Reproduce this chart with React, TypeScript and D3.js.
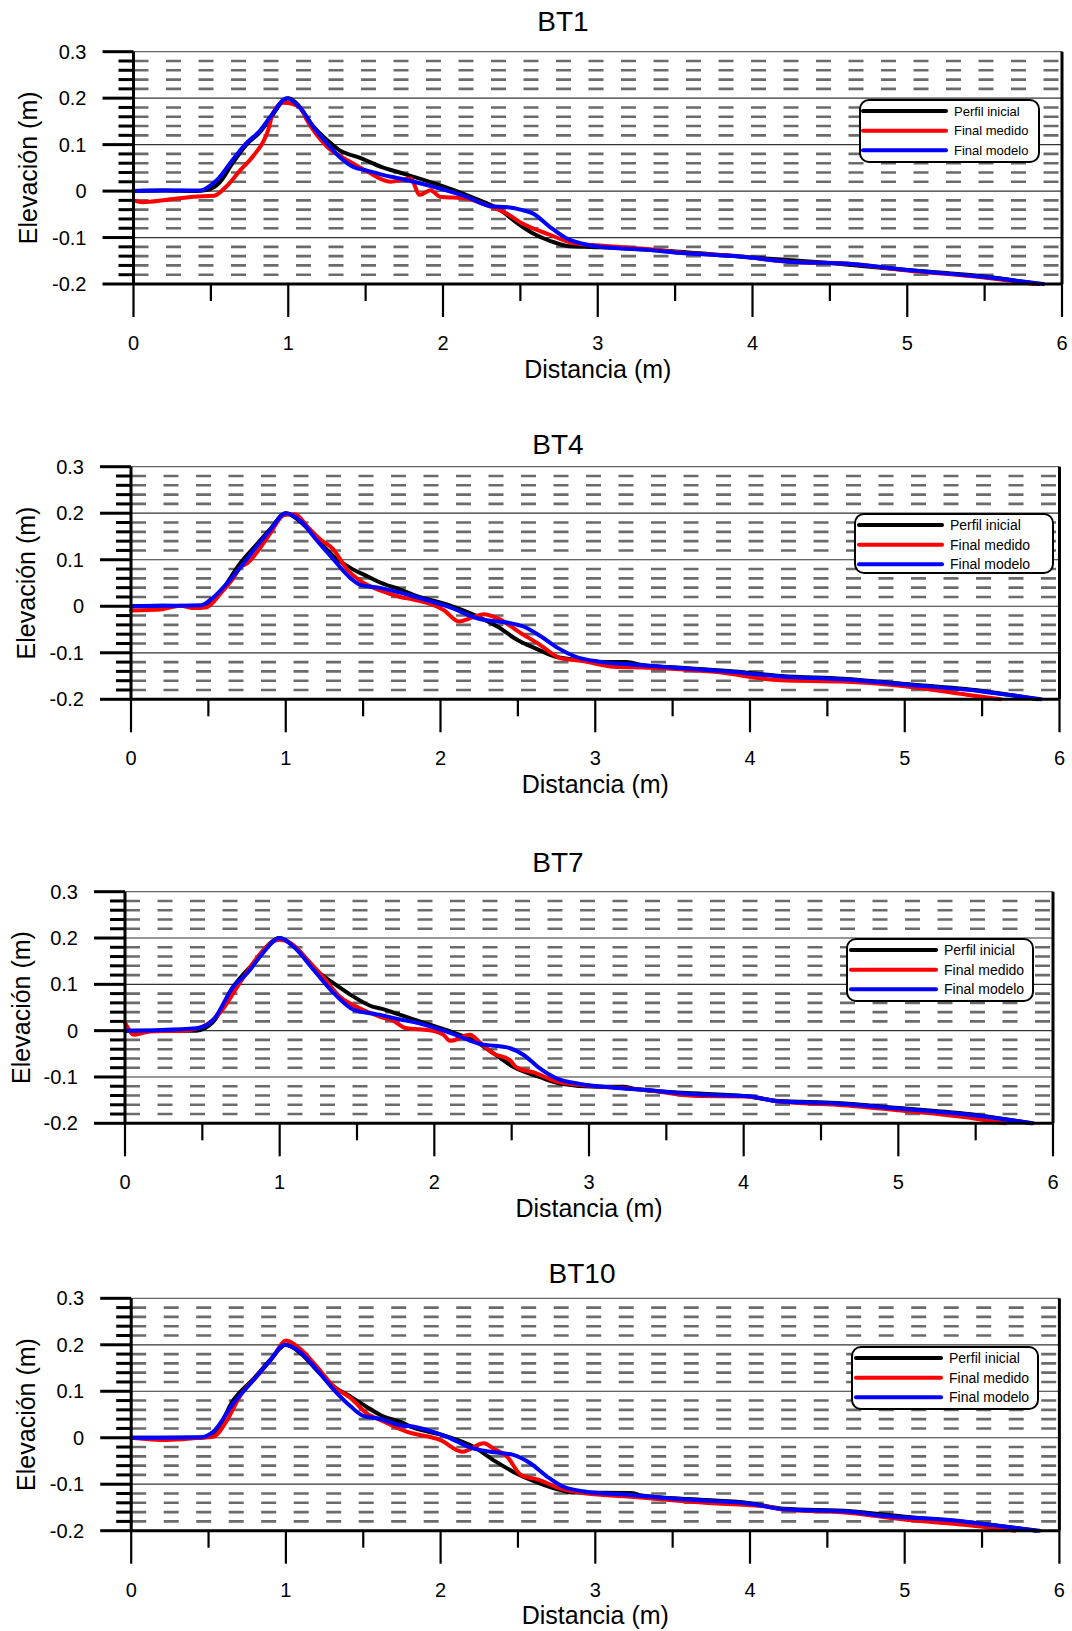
import React from "react";
import * as d3 from "d3";

// ---------- data (x in m, elevation in m) ----------
const panelTitles = ["BT1", "BT4", "BT7", "BT10"];
const legendLabels = ["Perfil inicial", "Final medido", "Final modelo"];
const seriesColors = ["#000000", "#ff0000", "#0000ff"];
const xTickValues = [0, 1, 2, 3, 4, 5, 6];
const yTickValues = [-0.2, -0.1, 0, 0.1, 0.2, 0.3];
const yTickLabels = ["-0.2", "-0.1", "0", "0.1", "0.2", "0.3"];
const xAxisTitle = "Distancia (m)";
const yAxisTitle = "Elevación (m)";

const bt1Inicial: [number, number][] = [[0,0],[0.2,0.001],[0.4,0.0],[0.47,0.002],[0.56,0.02],[0.64,0.06],[0.73,0.1],[0.82,0.128],[0.9,0.164],[0.96,0.192],[1.0,0.2],[1.05,0.19],[1.16,0.14],[1.25,0.11],[1.33,0.088],[1.46,0.072],[1.61,0.051],[1.72,0.04],[1.94,0.017],[2.15,-0.008],[2.26,-0.023],[2.37,-0.041],[2.48,-0.069],[2.58,-0.091],[2.69,-0.107],[2.8,-0.118],[2.91,-0.12],[3.1,-0.122],[3.5,-0.13],[4.0,-0.143],[4.5,-0.155],[5.0,-0.17],[5.5,-0.184],[5.85,-0.2]];
const bt1Medido: [number, number][] = [[0,-0.02],[0.06,-0.024],[0.21,-0.019],[0.39,-0.012],[0.52,-0.01],[0.6,0.01],[0.69,0.045],[0.77,0.074],[0.87,0.131],[0.9,0.167],[0.97,0.19],[1.03,0.187],[1.08,0.178],[1.12,0.153],[1.25,0.096],[1.4,0.063],[1.51,0.042],[1.66,0.02],[1.79,0.027],[1.85,-0.008],[1.92,0.002],[1.98,-0.012],[2.15,-0.016],[2.28,-0.03],[2.41,-0.048],[2.52,-0.071],[2.69,-0.094],[2.84,-0.112],[3.01,-0.117],[3.3,-0.124],[3.56,-0.133],[3.9,-0.14],[4.23,-0.152],[4.64,-0.157],[5.0,-0.171],[5.47,-0.185],[5.82,-0.2]];
const bt1Modelo: [number, number][] = [[0,0],[0.2,0.001],[0.43,0.001],[0.47,0.006],[0.54,0.024],[0.64,0.067],[0.73,0.103],[0.82,0.131],[0.9,0.167],[0.99,0.2],[1.08,0.178],[1.16,0.139],[1.25,0.103],[1.33,0.074],[1.42,0.052],[1.51,0.044],[1.61,0.035],[1.72,0.027],[1.94,0.009],[2.15,-0.012],[2.3,-0.032],[2.42,-0.035],[2.5,-0.04],[2.58,-0.048],[2.69,-0.077],[2.8,-0.102],[2.91,-0.114],[3.01,-0.12],[3.3,-0.126],[3.56,-0.134],[3.92,-0.141],[4.23,-0.152],[4.64,-0.157],[5.0,-0.17],[5.47,-0.184],[5.88,-0.2]];

const bt4Inicial: [number, number][] = [[0,0],[0.2,0.001],[0.45,0.0],[0.52,0.008],[0.6,0.04],[0.7,0.09],[0.81,0.132],[0.9,0.166],[1.0,0.2],[1.1,0.18],[1.2,0.145],[1.31,0.107],[1.42,0.082],[1.53,0.064],[1.61,0.051],[1.74,0.036],[1.83,0.024],[2.05,0.003],[2.22,-0.019],[2.37,-0.044],[2.5,-0.073],[2.61,-0.09],[2.74,-0.108],[2.91,-0.116],[3.1,-0.12],[3.2,-0.12],[3.3,-0.126],[3.6,-0.133],[3.9,-0.14],[4.2,-0.15],[4.6,-0.156],[5.0,-0.167],[5.5,-0.182],[5.86,-0.2]];
const bt4Medido: [number, number][] = [[0,-0.009],[0.19,-0.007],[0.32,0.001],[0.41,-0.004],[0.49,-0.002],[0.58,0.028],[0.66,0.06],[0.71,0.085],[0.75,0.092],[0.84,0.128],[0.9,0.157],[0.99,0.196],[1.06,0.198],[1.14,0.171],[1.23,0.142],[1.3,0.125],[1.4,0.078],[1.49,0.053],[1.61,0.034],[1.74,0.02],[1.83,0.014],[2.02,-0.008],[2.12,-0.033],[2.19,-0.026],[2.28,-0.017],[2.37,-0.026],[2.52,-0.058],[2.63,-0.08],[2.78,-0.112],[2.91,-0.117],[3.12,-0.13],[3.34,-0.132],[3.77,-0.141],[4.2,-0.159],[4.6,-0.162],[5.0,-0.172],[5.4,-0.19],[5.62,-0.2]];
const bt4Modelo: [number, number][] = [[0,0],[0.2,0.001],[0.45,0.002],[0.51,0.013],[0.62,0.049],[0.71,0.085],[0.81,0.128],[0.9,0.164],[1.0,0.2],[1.1,0.182],[1.2,0.142],[1.31,0.1],[1.42,0.06],[1.48,0.046],[1.6,0.04],[1.83,0.021],[2.05,-0.001],[2.26,-0.028],[2.43,-0.035],[2.54,-0.044],[2.65,-0.065],[2.76,-0.09],[2.87,-0.108],[3.02,-0.119],[3.23,-0.125],[3.56,-0.133],[3.88,-0.141],[4.2,-0.151],[4.6,-0.157],[5.0,-0.168],[5.5,-0.183],[5.88,-0.2]];

const bt7Inicial: [number, number][] = [[0,0],[0.2,0.0],[0.46,0.0],[0.57,0.019],[0.7,0.095],[0.83,0.145],[1.0,0.2],[1.1,0.18],[1.26,0.124],[1.35,0.102],[1.48,0.073],[1.6,0.052],[1.65,0.048],[1.78,0.034],[1.86,0.025],[2.08,0.001],[2.27,-0.024],[2.4,-0.053],[2.51,-0.078],[2.68,-0.1],[2.81,-0.114],[3.05,-0.121],[3.22,-0.121],[3.3,-0.126],[3.6,-0.134],[4.0,-0.141],[4.23,-0.152],[4.6,-0.156],[5.0,-0.167],[5.5,-0.182],[5.86,-0.2]];
const bt7Medido: [number, number][] = [[0,0.017],[0.06,-0.009],[0.16,-0.002],[0.38,0.0],[0.51,0.01],[0.61,0.037],[0.74,0.102],[0.85,0.156],[0.94,0.189],[1.0,0.196],[1.07,0.189],[1.2,0.145],[1.28,0.116],[1.39,0.073],[1.52,0.048],[1.65,0.03],[1.73,0.022],[1.82,0.005],[1.97,0.001],[2.06,-0.009],[2.1,-0.022],[2.23,-0.009],[2.3,-0.027],[2.38,-0.049],[2.49,-0.064],[2.53,-0.079],[2.66,-0.092],[2.79,-0.11],[2.94,-0.117],[3.37,-0.128],[3.69,-0.141],[4.02,-0.142],[4.23,-0.153],[4.6,-0.16],[5.0,-0.172],[5.5,-0.19],[5.69,-0.2]];
const bt7Modelo: [number, number][] = [[0,0],[0.2,0.001],[0.46,0.005],[0.57,0.023],[0.7,0.095],[0.79,0.124],[0.89,0.167],[1.0,0.2],[1.09,0.181],[1.22,0.131],[1.35,0.081],[1.48,0.045],[1.6,0.037],[1.65,0.034],[1.78,0.024],[1.86,0.019],[2.08,-0.002],[2.3,-0.029],[2.47,-0.036],[2.58,-0.053],[2.68,-0.081],[2.79,-0.103],[2.94,-0.115],[3.16,-0.123],[3.37,-0.128],[3.59,-0.135],[3.8,-0.139],[4.02,-0.141],[4.23,-0.153],[4.6,-0.157],[5.0,-0.168],[5.5,-0.183],[5.87,-0.2]];

const bt10Inicial: [number, number][] = [[0,0],[0.2,0.0],[0.45,0.0],[0.53,0.006],[0.66,0.081],[0.8,0.13],[0.9,0.168],[1.0,0.2],[1.1,0.18],[1.2,0.145],[1.31,0.11],[1.42,0.088],[1.52,0.067],[1.61,0.049],[1.74,0.034],[1.82,0.022],[2.04,0.003],[2.21,-0.019],[2.36,-0.052],[2.49,-0.077],[2.64,-0.098],[2.77,-0.112],[2.86,-0.118],[3.23,-0.119],[3.3,-0.124],[3.6,-0.132],[4.0,-0.141],[4.22,-0.153],[4.65,-0.158],[5.0,-0.17],[5.5,-0.185],[5.85,-0.2]];
const bt10Medido: [number, number][] = [[0,0],[0.23,-0.005],[0.45,0.0],[0.53,0.002],[0.62,0.038],[0.7,0.088],[0.83,0.139],[0.92,0.175],[1.0,0.209],[1.09,0.192],[1.2,0.153],[1.31,0.11],[1.42,0.085],[1.52,0.053],[1.63,0.035],[1.78,0.013],[2.0,-0.005],[2.14,-0.03],[2.28,-0.012],[2.34,-0.023],[2.43,-0.041],[2.52,-0.08],[2.64,-0.091],[2.77,-0.109],[2.9,-0.118],[3.23,-0.127],[3.76,-0.141],[4.11,-0.148],[4.2,-0.154],[4.65,-0.162],[4.97,-0.175],[5.4,-0.188],[5.71,-0.2]];
const bt10Modelo: [number, number][] = [[0,0],[0.2,0.0],[0.45,0.001],[0.53,0.013],[0.66,0.074],[0.79,0.124],[0.9,0.167],[0.99,0.2],[1.09,0.185],[1.2,0.146],[1.31,0.103],[1.42,0.067],[1.5,0.047],[1.59,0.042],[1.74,0.027],[1.82,0.024],[2.04,0.002],[2.21,-0.023],[2.32,-0.03],[2.47,-0.037],[2.58,-0.055],[2.69,-0.084],[2.79,-0.105],[2.94,-0.116],[3.23,-0.123],[3.55,-0.132],[3.76,-0.136],[3.98,-0.141],[4.22,-0.154],[4.65,-0.159],[4.86,-0.168],[5.29,-0.177],[5.57,-0.188],[5.87,-0.2]];

const panelSeries = [
  [bt1Inicial, bt1Medido, bt1Modelo],
  [bt4Inicial, bt4Medido, bt4Modelo],
  [bt7Inicial, bt7Medido, bt7Modelo],
  [bt10Inicial, bt10Medido, bt10Modelo],
];

// ---------- layout (pixel geometry) ----------
const layouts = [
  { x0: 133.5, x1: 1062, yTop: 51.7, yBot: 284, titleX: 563, titleY: 21, yLabX: 28,
    leg: { l: 860, t: 100, r: 1039, b: 162, lx0: 863, lx1: 946, tx: 954, fs: 13 } },
  { x0: 131, x1: 1059.5, yTop: 466.7, yBot: 699.3, titleX: 558, titleY: 444, yLabX: 26,
    leg: { l: 855, t: 514, r: 1053, b: 573, lx0: 859, lx1: 942, tx: 950, fs: 14 } },
  { x0: 125, x1: 1053, yTop: 891.7, yBot: 1123.3, titleX: 558, titleY: 862, yLabX: 21,
    leg: { l: 847, t: 939, r: 1033, b: 1001, lx0: 851, lx1: 936, tx: 944, fs: 14 } },
  { x0: 131.2, x1: 1059.4, yTop: 1298.3, yBot: 1530.7, titleX: 582, titleY: 1273, yLabX: 26,
    leg: { l: 852, t: 1347, r: 1038, b: 1409, lx0: 856, lx1: 941, tx: 949, fs: 14 } },
];

const FONT = "'Liberation Sans', Arial, Helvetica, sans-serif";

function Panel({ idx }: { idx: number }) {
  const L = layouts[idx];
  const x = d3.scaleLinear().domain([0, 6]).range([L.x0, L.x1]);
  const y = d3.scaleLinear().domain([-0.2, 0.3]).range([L.yBot, L.yTop]);
  const line = d3
    .line<[number, number]>()
    .x((d) => x(d[0]))
    .y((d) => y(d[1]))
    .curve(d3.curveMonotoneX);

  const minorY = d3.range(0, 26).map((i) => -0.2 + i * 0.02);
  const isMajor = (v: number) => Math.abs(v * 10 - Math.round(v * 10)) < 1e-6;
  const dashedY = minorY.filter((v) => !isMajor(v));
  const minorX = d3.range(0, 6).map((i) => i + 0.5);
  const lg = L.leg;
  const rowOffsets = [11, 30.8, 50.2];

  return (
    <g>
      <text x={L.titleX} y={L.titleY} textAnchor="middle" dy="0.35em" fontSize={28} fontFamily={FONT}>
        {panelTitles[idx]}
      </text>
      {/* dashed minor grid */}
      {dashedY.map((v, i) => (
        <line key={"dg" + i} x1={L.x0} x2={L.x1} y1={y(v)} y2={y(v)} stroke="#6b6b6b"
          strokeWidth={2.6} strokeDasharray="15,17.5" />
      ))}
      {/* major grid */}
      {yTickValues.filter((v) => v > -0.15).map((v, i) => (
        <line key={"mg" + i} x1={L.x0} x2={L.x1} y1={y(v)} y2={y(v)}
          stroke={v > 0.25 ? "#666" : "#333"} strokeWidth={1.2} />
      ))}
      {/* series */}
      {panelSeries[idx].map((s, i) => (
        <path key={"s" + i} d={line(s) || ""} fill="none" stroke={seriesColors[i]} strokeWidth={4}
          strokeLinejoin="round" strokeLinecap="round" />
      ))}
      {/* y axis */}
      <line x1={L.x0} x2={L.x0} y1={L.yTop} y2={L.yBot} stroke="#000" strokeWidth={3} />
      {minorY.map((v, i) => (
        <line key={"yt" + i} x1={isMajor(v) ? L.x0 - 31 : L.x0 - 15} x2={L.x0} y1={y(v)} y2={y(v)}
          stroke="#000" strokeWidth={3} />
      ))}
      {yTickValues.map((v, i) => (
        <text key={"yl" + i} x={L.x0 - 47} y={y(v)} dy="0.35em" textAnchor="end" fontSize={20} fontFamily={FONT}>
          {yTickLabels[i]}
        </text>
      ))}
      {/* x axis */}
      <line x1={L.x0} x2={L.x1} y1={L.yBot} y2={L.yBot} stroke="#000" strokeWidth={3} />
      <line x1={L.x1} x2={L.x1} y1={L.yTop} y2={L.yBot} stroke="#000" strokeWidth={3} />
      {xTickValues.map((v, i) => (
        <line key={"xt" + i} x1={x(v)} x2={x(v)} y1={L.yBot} y2={L.yBot + 33} stroke="#000" strokeWidth={2.2} />
      ))}
      {minorX.map((v, i) => (
        <line key={"xm" + i} x1={x(v)} x2={x(v)} y1={L.yBot} y2={L.yBot + 17} stroke="#000" strokeWidth={2.2} />
      ))}
      {xTickValues.map((v, i) => (
        <text key={"xl" + i} x={x(v)} y={L.yBot + 59} dy="0.35em" textAnchor="middle" fontSize={20} fontFamily={FONT}>
          {String(v)}
        </text>
      ))}
      <text x={(L.x0 + L.x1) / 2} y={L.yBot + 85} dy="0.35em" textAnchor="middle" fontSize={25} fontFamily={FONT}>
        {xAxisTitle}
      </text>
      <text transform={`translate(${L.yLabX},${(L.yTop + L.yBot) / 2}) rotate(-90)`} dy="0.35em"
        textAnchor="middle" fontSize={25} fontFamily={FONT}>
        {yAxisTitle}
      </text>
      {/* legend */}
      <rect x={lg.l} y={lg.t} width={lg.r - lg.l} height={lg.b - lg.t} rx={9} ry={9} fill="#fff"
        stroke="#000" strokeWidth={2} />
      {legendLabels.map((lab, i) => (
        <g key={"lg" + i}>
          <line x1={lg.lx0} x2={lg.lx1} y1={lg.t + rowOffsets[i]} y2={lg.t + rowOffsets[i]}
            stroke={seriesColors[i]} strokeWidth={4} strokeLinecap="round" />
          <text x={lg.tx} y={lg.t + rowOffsets[i]} dy="0.35em" fontSize={lg.fs} fontFamily={FONT}>
            {lab}
          </text>
        </g>
      ))}
    </g>
  );
}

export default function App() {
  return (
    <svg width={1072} height={1631} style={{ position: "absolute", left: 0, top: 0, background: "#fff" }}>
      <rect x={0} y={0} width={1072} height={1631} fill="#fff" />
      {panelTitles.map((_, i) => (
        <Panel key={i} idx={i} />
      ))}
    </svg>
  );
}
